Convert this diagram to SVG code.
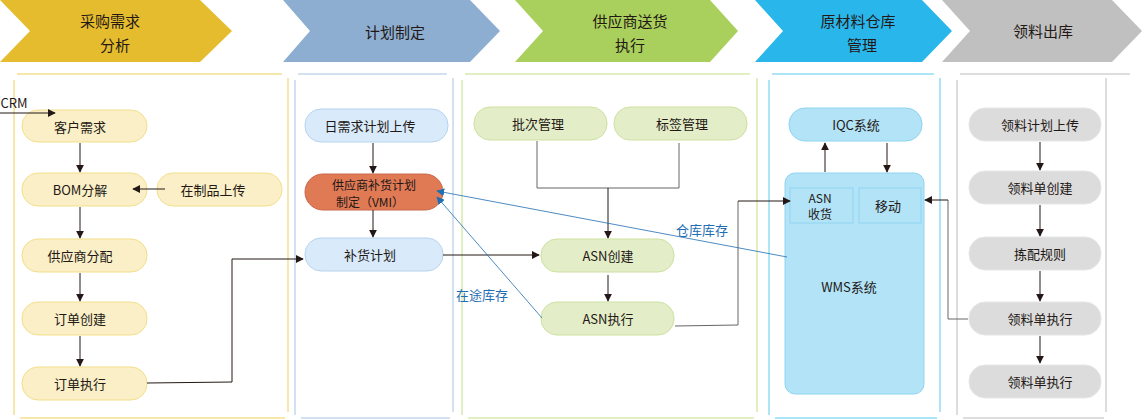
<svg xmlns="http://www.w3.org/2000/svg" width="1142" height="419" viewBox="0 0 1142 419">
<defs>
<marker id="ar" viewBox="0 0 10 10" refX="9" refY="5" markerWidth="8" markerHeight="8" orient="auto" markerUnits="userSpaceOnUse"><path d="M0,0L10,5L0,10z" fill="#231815"/></marker>
<marker id="ab" viewBox="0 0 10 10" refX="9" refY="5" markerWidth="8" markerHeight="8" orient="auto" markerUnits="userSpaceOnUse"><path d="M0,0L10,5L0,10z" fill="#1f6db3"/></marker>
<style>
text{font-family:"Noto Sans CJK SC","Noto Sans",sans-serif;font-size:13px;fill:#231815;text-anchor:middle;dominant-baseline:central}
.h{font-size:15px}
.s{font-size:12px}
.y{fill:#faefc6;stroke:#f3df8a}
.b{fill:#d9ebfb;stroke:#b6d3ee}
.g{fill:#e3edc8;stroke:#cde1a0}
.c{fill:#b2e3f6;stroke:#8fd4f2}
.k{fill:#dcdcdc;stroke:#e6e6e6}
.l{fill:none;stroke:#231815;stroke-width:1;marker-end:url(#ar)}
.p{fill:none;stroke:#666;stroke-width:1}
.bl{fill:none;stroke:#1f6db3;stroke-width:0.8;marker-end:url(#ab)}
.bt{fill:#1f6db3}
</style>
</defs>
<g id="headers">
<polygon points="0,0 200,0 232,31 200,62 0,62 30,31" fill="#e6bc2f"/>
<text class="h" x="110" y="20">采购需求</text><text class="h" x="115" y="44">分析</text>
<polygon points="283,0 470,0 500,31 470,62 283,62 310,31" fill="#8daed1"/>
<text class="h" x="395" y="31">计划制定</text>
<polygon points="515,0 710,0 738,31 710,62 515,62 543,31" fill="#a9d05c"/>
<text class="h" x="630" y="20">供应商送货</text><text class="h" x="630" y="44">执行</text>
<polygon points="755,0 922,0 952,31 922,62 755,62 783,31" fill="#29b6eb"/>
<text class="h" x="858" y="20">原材料仓库</text><text class="h" x="862" y="44">管理</text>
<polygon points="942,0 1112,0 1142,31 1112,62 942,62 970,31" fill="#c0c0c0"/>
<text class="h" x="1043" y="30">领料出库</text>
</g>
<g id="lanes" fill="none">
<g stroke="#f0cf58"><line x1="17" y1="74" x2="282" y2="74"/><line x1="14" y1="80" x2="14" y2="415"/><line x1="288" y1="78" x2="288" y2="412"/><line x1="20" y1="418" x2="285" y2="418"/></g>
<g stroke="#a9c3e0"><line x1="298" y1="74" x2="447" y2="74"/><line x1="295" y1="80" x2="295" y2="415"/><line x1="453" y1="78" x2="453" y2="412"/><line x1="301" y1="418" x2="450" y2="418"/></g>
<g stroke="#c4de86"><line x1="465" y1="74" x2="750" y2="74"/><line x1="462" y1="80" x2="462" y2="415"/><line x1="757" y1="78" x2="757" y2="412"/><line x1="468" y1="418" x2="754" y2="418"/></g>
<g stroke="#5ccbf1"><line x1="772" y1="74" x2="934" y2="74"/><line x1="769" y1="80" x2="769" y2="415"/><line x1="940" y1="78" x2="940" y2="412"/><line x1="775" y1="418" x2="937" y2="418"/></g>
<g stroke="#bbb"><line x1="960" y1="74" x2="1130" y2="74"/><line x1="957" y1="80" x2="957" y2="415"/><line x1="1106" y1="78" x2="1106" y2="412"/><line x1="963" y1="418" x2="1104" y2="418"/></g>
</g>
<g id="n1"><rect class="y" x="22" y="110" width="125" height="32" rx="16"/><text x="80" y="126">客户需求</text></g>
<g id="n2"><rect class="y" x="22" y="173" width="125" height="33" rx="16"/><text x="80" y="189">BOM分解</text></g>
<g id="n3"><rect class="y" x="157" y="173" width="125" height="33" rx="16"/><text x="213" y="189">在制品上传</text></g>
<g id="n4"><rect class="y" x="22" y="239" width="125" height="33" rx="16"/><text x="80" y="255">供应商分配</text></g>
<g id="n5"><rect class="y" x="22" y="302" width="125" height="33" rx="16"/><text x="80" y="318">订单创建</text></g>
<g id="n6"><rect class="y" x="22" y="367" width="125" height="33" rx="16"/><text x="80" y="383">订单执行</text></g>
<g id="n7"><rect class="b" x="305" y="109" width="143" height="33" rx="16"/><text x="370" y="125">日需求计划上传</text></g>
<g id="n8"><rect x="305" y="174" width="138" height="36" rx="18" fill="#e07a55" stroke="#c9694a"/><text class="s" x="374" y="184">供应商补货计划</text><text class="s" x="370" y="201">制定（VMI）</text></g>
<g id="n9"><rect class="b" x="305" y="238" width="138" height="33" rx="16"/><text x="370" y="254">补货计划</text></g>
<g id="n10"><rect class="g" x="474" y="107" width="133" height="33" rx="16"/><text x="538" y="123">批次管理</text></g>
<g id="n11"><rect class="g" x="614" y="107" width="133" height="33" rx="16"/><text x="682" y="123">标签管理</text></g>
<g id="n12"><rect class="g" x="541" y="239" width="133" height="33" rx="16"/><text x="608" y="255">ASN创建</text></g>
<g id="n13"><rect class="g" x="541" y="302" width="133" height="33" rx="16"/><text x="608" y="318">ASN执行</text></g>
<g id="n14"><rect class="c" x="789" y="108" width="133" height="33" rx="16"/><text x="856" y="124">IQC系统</text></g>
<g id="n15"><rect class="c" x="785" y="173" width="139" height="221" rx="10"/><text x="849" y="286">WMS系统</text></g>
<g id="n16"><rect class="c" x="790" y="188" width="63" height="35"/><text class="s" x="820" y="197">ASN</text><text class="s" x="820" y="213">收货</text></g>
<g id="n17"><rect class="c" x="859" y="188" width="62" height="35"/><text x="888" y="205">移动</text></g>
<g id="n18"><rect class="k" x="969" y="108" width="132" height="33" rx="16"/><text x="1040" y="124">领料计划上传</text></g>
<g id="n19"><rect class="k" x="969" y="171" width="132" height="33" rx="16"/><text x="1040" y="187">领料单创建</text></g>
<g id="n20"><rect class="k" x="969" y="237" width="132" height="33" rx="16"/><text x="1040" y="253">拣配规则</text></g>
<g id="n21"><rect class="k" x="969" y="302" width="132" height="33" rx="16"/><text x="1040" y="318">领料单执行</text></g>
<g id="n22"><rect class="k" x="969" y="365" width="132" height="33" rx="16"/><text x="1040" y="381">领料单执行</text></g>
<g id="connectors">
<text x="14" y="102">CRM</text>
<path class="l" d="M0,113H55"/>
<path class="l" d="M80,143V172"/><path class="l" d="M80,207V238"/><path class="l" d="M80,273V301"/><path class="l" d="M80,336V366"/>
<path class="l" d="M165,189H133"/>
<path class="l" d="M147,383L232,382V259H303"/>
<path class="l" d="M373,143V173"/><path class="l" d="M373,210V237"/>
<path class="l" d="M443,255H539"/>
<path class="p" d="M537,141V188H679V143"/>
<path class="l" d="M608,188V238"/>
<path class="l" d="M608,275V301"/>
<path class="p" d="M675,326L738,325V201"/><path class="l" d="M738,201H790"/>
<path class="l" d="M825,172V143"/><path class="l" d="M887,143V172"/>
<path class="p" d="M968,319H948V200"/><path class="l" d="M948,200H925"/>
<path class="l" d="M1040,142V170"/><path class="l" d="M1040,205V236"/><path class="l" d="M1040,271V301"/><path class="l" d="M1040,336V363"/>
<path class="bl" d="M787,257L437,191"/>
<path class="bl" d="M542,318L437,197"/>
<text class="bt" x="702" y="229">仓库库存</text>
<text class="bt" x="482" y="294">在途库存</text>
</g>
</svg>
